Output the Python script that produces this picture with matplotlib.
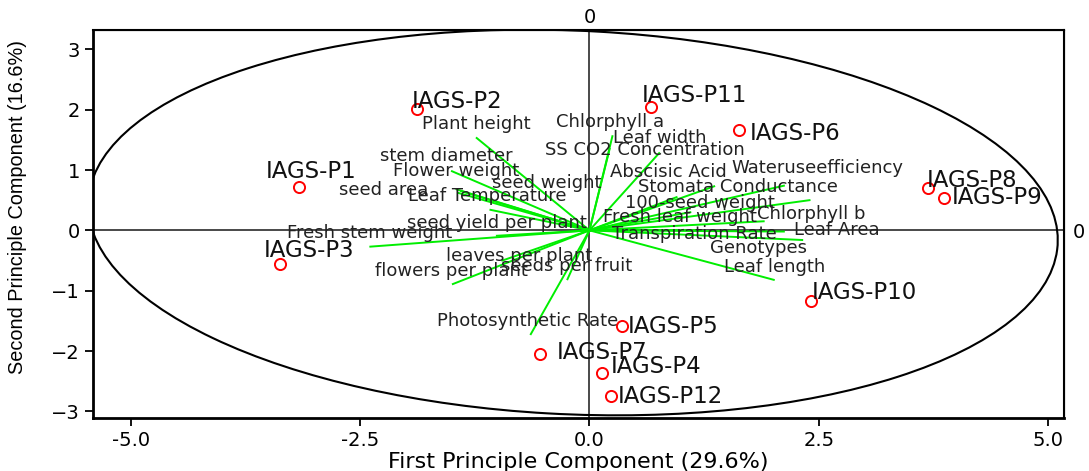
import numpy as np
import matplotlib.pyplot as plt
from matplotlib.patches import Ellipse

# genotype scores on the first two components
genotypes = ["IAGS-P1", "IAGS-P2", "IAGS-P3", "IAGS-P4", "IAGS-P5", "IAGS-P6",
             "IAGS-P7", "IAGS-P8", "IAGS-P9", "IAGS-P10", "IAGS-P11", "IAGS-P12"]
pc1 = [-3.17, -1.88, -3.37, 0.14, 0.36, 1.63, -0.54, 3.69, 3.87, 2.42, 0.67, 0.23]
pc2 = [0.71, 2.01, -0.56, -2.37, -1.58, 1.66, -2.05, 0.70, 0.53, -1.17, 2.04, -2.74]

# variable loadings (scaled)
traits = ["Plant height", "stem diameter", "Flower weight", "seed area", "seed weight",
          "Leaf Temperature", "seed yield per plant", "Fresh stem weight",
          "leaves per plant", "flowers per plant", "seeds per fruit",
          "Photosynthetic Rate", "Chlorphyll a", "Leaf width", "SS CO2 Concentration",
          "Abscisic Acid", "Wateruseefficiency", "Stomata Conductance",
          "100-seed weight", "Fresh leaf weight", "Chlorphyll b",
          "Transpiration Rate", "Leaf Area", "Genotypes", "Leaf length"]
load1 = [-1.23, -1.50, -1.45, -1.08, -1.40, -1.43, -1.01, -2.39, -0.95, -1.49, -0.24,
         -0.64, 0.22, 0.25, 0.76, 0.95, 2.12, 1.36, 2.40, 1.10, 1.90, 1.21, 2.12, 2.32, 2.01]
load2 = [1.53, 0.98, 0.68, 0.34, 0.65, 0.62, -0.09, -0.27, -0.50, -0.89, -0.81,
         -1.72, 1.35, 1.56, 1.28, 0.55, 0.74, 0.73, 0.50, 0.30, 0.15, 0.00, -0.02, -0.16, -0.82]

# where each trait name sits (left edge, middle)
trait_pos = [(-1.83, 1.77), (-2.28, 1.24), (-2.14, 0.99), (-2.73, 0.67), (-1.06, 0.79),
             (-1.98, 0.57), (-1.99, 0.12), (-3.30, -0.05), (-1.56, -0.42), (-2.34, -0.67),
             (-0.96, -0.59), (-1.66, -1.50), (-0.36, 1.80), (0.26, 1.53), (-0.49, 1.33),
             (0.22, 0.97), (1.55, 1.03), (0.53, 0.72), (0.39, 0.46), (0.15, 0.22),
             (1.83, 0.27), (0.25, -0.06), (2.23, 0.0), (1.31, -0.29), (1.47, -0.61)]
# genotype label offsets from the marker, in pixels
label_off = [(-33, 16), (-5, 8), (-17, 14), (8, 7), (5, -1), (11, -3),
             (17, 2), (-1, 8), (7, 1), (0, 8), (-9, 12), (7, -1)]

fig = plt.figure(figsize=(10.89, 4.71), dpi=100)
ax = fig.add_axes([0.0854, 0.1125, 0.8916, 0.8238])
ax.set_xlim(-5.415, 5.175)
ax.set_ylim(-3.11, 3.32)

ax.axhline(0, color="#3a3a3a", lw=1.3, zorder=1)
ax.axvline(0, color="#3a3a3a", lw=1.3, zorder=1)

ell = Ellipse((-0.18, 0.13), 10.6, 6.35, angle=-4.9, fill=False, ec="black", lw=1.5)
ax.add_patch(ell)

for x, y in zip(load1, load2):
    ax.plot([0, x], [0, y], color="#00ee00", lw=1.4, zorder=2)

for name, (tx, ty) in zip(traits, trait_pos):
    ax.text(tx, ty, name, fontsize=13, color="#222222", ha="left", va="center", zorder=3)

ax.plot(pc1, pc2, "o", ms=8, mfc="none", mec="red", mew=1.4, zorder=4)
for name, x, y, (dx, dy) in zip(genotypes, pc1, pc2, label_off):
    ax.annotate(name, (x, y), xytext=(dx * 0.72, dy * 0.72), textcoords="offset points",
                fontsize=16.5, color="#111111", ha="left", va="center", zorder=4)

ax.set_xticks([-5.0, -2.5, 0.0, 2.5, 5.0])
ax.set_xticklabels(["-5.0", "-2.5", "0.0", "2.5", "5.0"])
ax.set_yticks([-3, -2, -1, 0, 1, 2, 3])
ax.tick_params(labelsize=14, length=6, width=1.3, direction="out", color="black")
for side in ["left", "bottom"]:
    ax.spines[side].set_linewidth(2)
for side in ["top", "right"]:
    ax.spines[side].set_linewidth(1.5)

top = ax.secondary_xaxis("top")
top.set_xticks([0])
top.tick_params(length=0, labelsize=14, pad=2)
right = ax.secondary_yaxis("right")
right.set_yticks([0])
right.tick_params(length=0, labelsize=14, pad=6)

ax.set_xlabel("First Principle Component (29.6%)", fontsize=16, labelpad=1)
ax.set_ylabel("Second Principle Component (16.6%)", fontsize=14.3,
              family=["Liberation Sans", "DejaVu Sans"])
ax.yaxis.set_label_coords(-0.068, 0.545)

fig.savefig("out.png", dpi=100)
